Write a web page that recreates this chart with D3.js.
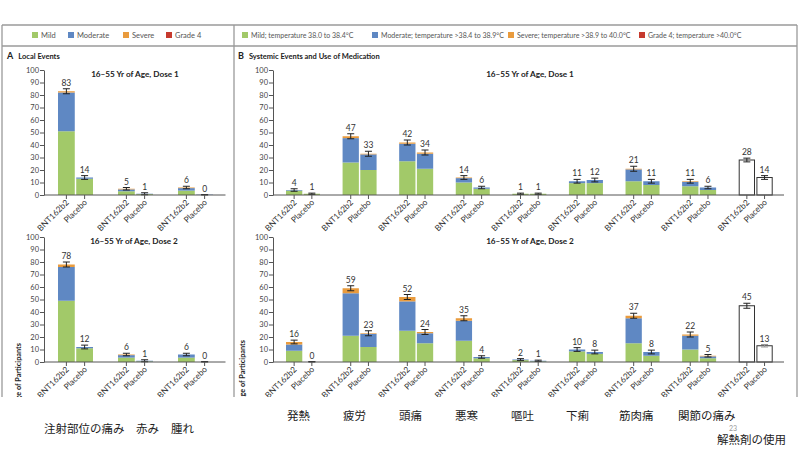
<!DOCTYPE html>
<html><head><meta charset="utf-8">
<script src="https://cdn.jsdelivr.net/npm/d3@7"></script>
<style>body{margin:0;background:#fff}</style>
</head><body><svg id="c" width="800" height="450"></svg>
<script>
// ---------- data ----------
const arms = ["BNT162b2", "Placebo"];
const localEvents = ["Pain at injection site", "Redness", "Swelling"];
const systemicEvents = ["Fever", "Fatigue", "Headache", "Chills", "Vomiting", "Diarrhea", "Muscle pain", "Joint pain", "Medication"];
const yTicks = [0, 10, 20, 30, 40, 50, 60, 70, 80, 90, 100];
const severityKeys = ["mild", "moderate", "severe", "grade4"];
const legendA = ["Mild", "Moderate", "Severe", "Grade 4"];
const legendB = ["Mild; temperature 38.0 to 38.4°C", "Moderate; temperature >38.4 to 38.9°C", "Severe; temperature >38.9 to 40.0°C", "Grade 4; temperature >40.0°C"];
const jpLocal = ["注射部位の痛み", "赤み", "腫れ"];
const jpSystemic = ["発熱", "疲労", "頭痛", "悪寒", "嘔吐", "下痢", "筋肉痛", "関節の痛み"];
const jpMedication = "解熱剤の使用";

// Panel A, dose 1 (pairs BNT/Placebo for pain, redness, swelling)
const a1Mild = [51, 13, 3, 0.7, 3.5, 0];
const a1Moderate = [31, 1, 1.5, 0.3, 2, 0.3];
const a1Severe = [1, 0, 0.5, 0, 0.5, 0];
const a1Grade4 = [0, 0, 0, 0, 0, 0];
const a1Labels = [83, 14, 5, 1, 6, 0];
const a1Err = [2, 1.5, 1, 0.8, 1, 0.4];
// Panel A, dose 2
const a2Mild = [49, 11, 3.5, 0.5, 3.5, 0];
const a2Moderate = [27, 1, 2, 0.5, 2.5, 0];
const a2Severe = [2, 0, 0.5, 0, 0, 0];
const a2Grade4 = [0, 0, 0, 0, 0, 0];
const a2Labels = [78, 12, 6, 1, 6, 0];
const a2Err = [2, 1.5, 1, 0.8, 1, 0.4];
// Panel B, dose 1 (8 symptom pairs)
const b1Mild = [3.5, 1, 26, 20, 27, 21, 10, 5, 1, 1, 9.5, 9.5, 11, 8, 7, 4];
const b1Moderate = [0.5, 0, 19.5, 12.5, 14, 12, 3.5, 1, 0, 0, 1.5, 2.5, 9.5, 3, 3.5, 2];
const b1Severe = [0, 0, 1.5, 0.5, 1, 1, 0.5, 0, 0, 0, 0, 0, 0.5, 0, 0.5, 0];
const b1Grade4 = [0, 0, 0, 0, 0, 0, 0, 0, 0, 0, 0, 0, 0, 0, 0, 0];
const b1Labels = [4, 1, 47, 33, 42, 34, 14, 6, 1, 1, 11, 12, 21, 11, 11, 6];
const b1Err = [1, 0.5, 2, 2, 2, 2, 1.5, 1, 0.5, 0.5, 1.5, 1.5, 2, 1.5, 1.5, 1];
const b1Medication = [28, 14];
const b1MedErr = [1.5, 1.5];
// Panel B, dose 2
const b2Mild = [9, 0, 21, 12, 25, 15, 17, 3, 1.5, 0.5, 8.5, 6.5, 15, 5, 10, 3];
const b2Moderate = [5, 0, 34, 10.5, 23.5, 8, 16, 1, 0.5, 0.5, 1.5, 1.5, 20, 3, 11, 1.5];
const b2Severe = [2, 0, 4, 0.5, 3.5, 1, 2, 0, 0, 0, 0, 0, 2, 0, 1, 0.5];
const b2Grade4 = [0, 0, 0, 0, 0, 0, 0, 0, 0, 0, 0, 0, 0, 0, 0, 0];
const b2Labels = [16, 0, 59, 23, 52, 24, 35, 4, 2, 1, 10, 8, 37, 8, 22, 5];
const b2Err = [1.5, 0.4, 2, 2, 2, 2, 2, 1, 0.7, 0.5, 1.5, 1.5, 2, 1.5, 2, 1];
const b2Medication = [45, 13];
const b2MedErr = [2, 1];

// ---------- drawing ----------
const colors = {mild: "#a2c969", moderate: "#5f88c3", severe: "#e99b3d", grade4: "#c63a2e"};
const FONT = "Lato, 'Open Sans', sans-serif";
const svg = d3.select("#c");
const defs = svg.append("defs");
defs.append("clipPath").attr("id", "crop").append("rect").attr("x", 0).attr("y", 0).attr("width", 800).attr("height", 397);
const fig = svg.append("g").attr("clip-path", "url(#crop)");

// frame
const frame = fig.append("g").attr("stroke", "#9a9a9a").attr("stroke-width", 1.3).attr("fill", "none");
frame.append("line").attr("x1", 2).attr("x2", 797).attr("y1", 25).attr("y2", 25);
frame.append("line").attr("x1", 2).attr("x2", 797).attr("y1", 46).attr("y2", 46);
frame.append("line").attr("x1", 2).attr("x2", 2).attr("y1", 25).attr("y2", 400);
frame.append("line").attr("x1", 234).attr("x2", 234).attr("y1", 25).attr("y2", 400);
frame.append("line").attr("x1", 797).attr("x2", 797).attr("y1", 25).attr("y2", 400);

// legends
function legend(items, xs, fs) {
  items.forEach((t, i) => {
    fig.append("rect").attr("x", xs[i]).attr("y", 32).attr("width", 6).attr("height", 6).attr("fill", colors[severityKeys[i]]);
    fig.append("text").attr("x", xs[i] + 9).attr("y", 38).attr("font-family", FONT).attr("font-size", fs).attr("fill", "#555").text(t);
  });
}
legend(legendA, [32, 68, 123, 166], 7.5);
legend(legendB, [242, 372, 508, 639], 7);

// panel headings
function heading(x, letter, text) {
  const t = fig.append("text").attr("x", x).attr("y", 59).attr("font-family", FONT).attr("font-weight", "bold").attr("fill", "#222");
  t.append("tspan").attr("font-size", 9).text(letter);
  t.append("tspan").attr("font-size", 7.5).attr("dx", 5).text(text);
}
heading(7, "A", "Local Events");
heading(238, "B", "Systemic Events and Use of Medication");

function panel(o) {
  const g = fig.append("g");
  const y = d3.scaleLinear().domain([0, 100]).range([o.y0, o.y100]);
  const xg = d3.scaleBand().domain(o.groups).range([o.x0, o.x1]);
  const bw = xg.bandwidth();
  const xa = d3.scaleBand().domain(arms).range([(bw - o.pair) / 2, (bw + o.pair) / 2]).paddingInner(0.08);
  const cx = (grp, arm) => xg(grp) + xa(arm) + xa.bandwidth() / 2;

  // title
  g.append("text").attr("x", o.titleX).attr("y", o.y100 + 7).attr("text-anchor", "middle")
    .attr("font-family", FONT).attr("font-weight", "bold").attr("font-size", 8.2).attr("fill", "#222").text(o.title);

  // y axis
  const ax = g.append("g").attr("transform", `translate(${o.axisX},0)`)
    .call(d3.axisLeft(y).tickValues(yTicks).tickSize(4).tickSizeOuter(0).tickPadding(1));
  ax.select(".domain").attr("stroke", "#555");
  ax.selectAll(".tick line").attr("stroke", "#555");
  ax.selectAll(".tick text").attr("font-family", FONT).attr("font-size", 7.5).attr("fill", "#444");

  // stacked bars
  const nStack = o.mild.length;
  const rows = d3.range(nStack).map(i => ({
    group: o.groups[Math.floor(i / 2)], arm: arms[i % 2],
    mild: o.mild[i], moderate: o.moderate[i], severe: o.severe[i], grade4: o.grade4[i],
    label: o.labels[i], err: o.err[i]
  }));
  const stack = d3.stack().keys(severityKeys)(rows);
  g.selectAll("g.layer").data(stack).join("g").attr("fill", d => colors[d.key])
    .selectAll("rect").data(d => d).join("rect")
    .attr("x", d => xg(d.data.group) + xa(d.data.arm))
    .attr("width", xa.bandwidth())
    .attr("y", d => y(d[1]))
    .attr("height", d => Math.max(0, y(d[0]) - y(d[1])));

  // medication (white) bars
  let medRows = [];
  if (o.med) {
    const mg = o.groups[o.groups.length - 1];
    medRows = arms.map((a, i) => ({group: mg, arm: a, label: o.med[i], err: o.medErr[i], gray: o.medGray && i === 1}));
    g.selectAll("rect.med").data(medRows).join("rect").attr("class", "med")
      .attr("x", d => xg(d.group) + xa(d.arm) + 0.5)
      .attr("width", xa.bandwidth() - 1)
      .attr("y", d => y(d.label))
      .attr("height", d => y(0) - y(d.label))
      .attr("fill", "#fff").attr("stroke", "#333").attr("stroke-width", 1);
  }

  const all = rows.concat(medRows);
  // error bars
  all.forEach(d => {
    const x = cx(d.group, d.arm);
    const hi = y(d.label + d.err), lo = y(Math.max(0, d.label - d.err));
    const col = d.gray ? "#999" : "#222";
    const e = g.append("g").attr("stroke", col).attr("stroke-width", 1);
    e.append("line").attr("x1", x).attr("x2", x).attr("y1", hi).attr("y2", lo);
    e.append("line").attr("x1", x - 3.5).attr("x2", x + 3.5).attr("y1", hi).attr("y2", hi);
    e.append("line").attr("x1", x - 3.5).attr("x2", x + 3.5).attr("y1", lo).attr("y2", lo);
    g.append("text").attr("x", x).attr("y", hi - 3).attr("text-anchor", "middle")
      .attr("font-family", FONT).attr("font-size", 8.5).attr("fill", "#333").text(d.label);
  });

  // x axis
  g.append("line").attr("x1", o.axisX).attr("x2", o.x1).attr("y1", y(0)).attr("y2", y(0)).attr("stroke", "#555");
  all.forEach(d => {
    const x = cx(d.group, d.arm);
    g.append("line").attr("x1", x).attr("x2", x).attr("y1", y(0)).attr("y2", y(0) + 4).attr("stroke", "#555");
    g.append("text").attr("transform", `translate(${x + 3},${y(0) + 8}) rotate(-45)`)
      .attr("text-anchor", "end").attr("font-family", FONT).attr("font-size", 8.3).attr("fill", "#333").text(d.arm);
  });
}

panel({groups: localEvents, x0: 45.5, x1: 225.5, axisX: 44, pair: 35, y0: 195, y100: 70, title: "16–55 Yr of Age, Dose 1", titleX: 135,
  mild: a1Mild, moderate: a1Moderate, severe: a1Severe, grade4: a1Grade4, labels: a1Labels, err: a1Err});
panel({groups: localEvents, x0: 45.5, x1: 225.5, axisX: 44, pair: 35, y0: 362, y100: 237, title: "16–55 Yr of Age, Dose 2", titleX: 134,
  mild: a2Mild, moderate: a2Moderate, severe: a2Severe, grade4: a2Grade4, labels: a2Labels, err: a2Err});
panel({groups: systemicEvents, x0: 274.7, x1: 784, axisX: 273, pair: 34, y0: 195, y100: 70, title: "16–55 Yr of Age, Dose 1", titleX: 530,
  mild: b1Mild, moderate: b1Moderate, severe: b1Severe, grade4: b1Grade4, labels: b1Labels, err: b1Err, med: b1Medication, medErr: b1MedErr});
panel({groups: systemicEvents, x0: 274.7, x1: 784, axisX: 273, pair: 34, y0: 362, y100: 237, title: "16–55 Yr of Age, Dose 2", titleX: 530,
  mild: b2Mild, moderate: b2Moderate, severe: b2Severe, grade4: b2Grade4, labels: b2Labels, err: b2Err, med: b2Medication, medErr: b2MedErr, medGray: true});

// y-axis titles (cropped at bottom)
[[21, 343], [245, 340]].forEach(([x, yEnd]) => {
  fig.append("text").attr("transform", `translate(${x},${yEnd}) rotate(-90)`).attr("text-anchor", "end")
    .attr("font-family", FONT).attr("font-weight", "bold").attr("font-size", 7.3).attr("fill", "#222").text("Percentage of Participants");
});

// Japanese annotations
const JP = "'Noto Sans CJK JP', sans-serif";
const jpLocalX = [44, 136, 171];
jpLocal.forEach((t, i) => svg.append("text").attr("x", jpLocalX[i]).attr("y", 433).attr("font-family", JP).attr("font-size", 11.5).attr("fill", "#222").text(t));
const jpSysX = [287, 343, 399, 455, 511, 566, 619, 678];
jpSystemic.forEach((t, i) => svg.append("text").attr("x", jpSysX[i]).attr("y", 420).attr("font-family", JP).attr("font-size", 11.5).attr("fill", "#222").text(t));
svg.append("text").attr("x", 717).attr("y", 444).attr("font-family", JP).attr("font-size", 11.5).attr("fill", "#222").text(jpMedication);
svg.append("text").attr("x", 729).attr("y", 431).attr("font-family", FONT).attr("font-size", 7).attr("fill", "#999").text("23");
</script>
</body></html>
